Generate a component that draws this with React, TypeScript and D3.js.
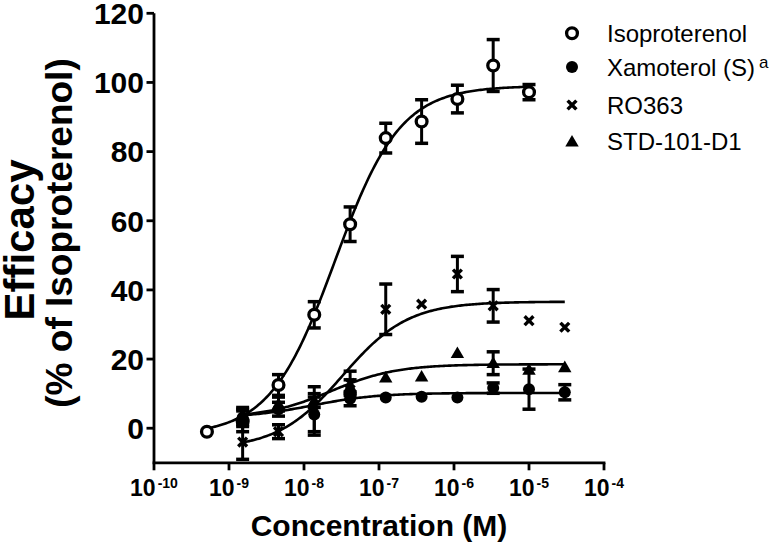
import React from "react";
import * as d3 from "d3";

// ---- data ----
const isoConc = [5.08e-10, 1.52e-9, 4.57e-9, 1.37e-8, 4.12e-8, 1.23e-7, 3.7e-7, 1.11e-6, 3.33e-6, 1e-5];
const otherConc = [1.52e-9, 4.57e-9, 1.37e-8, 4.12e-8, 1.23e-7, 3.7e-7, 1.11e-6, 3.33e-6, 1e-5, 3e-5];

const isoMean = [-1.0, 2.0, 12.5, 32.8, 59.0, 83.9, 88.7, 95.2, 104.9, 97.2];
const isoErr = [0, 3, 3, 3.8, 5, 4.3, 6.3, 4, 7.5, 2.2];
const xamMean = [3.0, 5.5, 4.0, 8.5, 8.9, 9.1, 8.9, 11.6, 11.3, 10.4];
const xamErr = [2.5, 2, 5, 2, 0, 0, 0, 1.5, 5.8, 2.2];
const roMean = [-4.0, -1.0, 5.0, 13.0, 34.4, 35.9, 44.6, 35.4, 31.1, 29.2];
const roErr = [5, 2, 7, 3.5, 7.3, 0, 5.1, 4.7, 0, 0];
const stdMean = [4.0, 7.0, 8.0, 12.0, 14.6, 14.9, 21.7, 18.8, 16.9, 17.6];
const stdErr = [2, 2, 2, 2, 0, 0, 0, 3.3, 0, 0];

// fitted curve parameters: [bottom, top, EC50]
const isoFit = [-2, 99, 2.6e-8];
const xamFit = [3, 10.2, 1.3e-8];
const roFit = [-6, 36.6, 3.3e-8];
const stdFit = [3, 18.5, 2.3e-8];

const seriesNames = ["Isoproterenol", "Xamoterol (S)", "RO363", "STD-101-D1"];
const xTickExps = [-10, -9, -8, -7, -6, -5, -4];
const yTicks = [0, 20, 40, 60, 80, 100, 120];

const FONT = "'Liberation Sans', Arial, Helvetica, sans-serif";

const x = d3.scaleLog().domain([1e-10, 1e-4]).range([154, 604]);
const y = d3.scaleLinear().domain([-10, 120]).range([462.8, 13.3]);

type Kind = "open" | "filled" | "cross" | "tri";

function Marker({ kind, cx, cy }: { kind: Kind; cx: number; cy: number }) {
  if (kind === "open")
    return <circle cx={cx} cy={cy} r={5.4} fill="#fff" stroke="#000" strokeWidth={3.3} />;
  if (kind === "filled") return <circle cx={cx} cy={cy} r={6} fill="#000" />;
  if (kind === "tri") {
    const p = d3.symbol(d3.symbolTriangle).size(78)();
    return <path d={p || ""} transform={`translate(${cx},${cy + 1})`} fill="#000" />;
  }
  const h = 3.2;
  return (
    <path
      d={`M${cx - h},${cy - h}L${cx + h},${cy + h}M${cx - h},${cy + h}L${cx + h},${cy - h}`}
      stroke="#000"
      strokeWidth={3.4}
      strokeLinecap="square"
      fill="none"
    />
  );
}

function curvePath(fit: number[], c0: number, c1: number) {
  const [b, t, ec] = fit;
  const l0 = Math.log10(c0), l1 = Math.log10(c1);
  const pts: [number, number][] = d3.range(0, 201).map((i) => {
    const c = Math.pow(10, l0 + ((l1 - l0) * i) / 200);
    return [c, b + (t - b) / (1 + ec / c)];
  });
  return d3.line<[number, number]>().x((d) => x(d[0])).y((d) => y(d[1]))(pts) || "";
}

function Series({ conc, mean, err, fit, kind }: { conc: number[]; mean: number[]; err: number[]; fit: number[]; kind: Kind }) {
  return (
    <g>
      <path d={curvePath(fit, conc[0], conc[conc.length - 1])} fill="none" stroke="#000" strokeWidth={2.6} />
      {conc.map((c, i) =>
        err[i] > 0 ? (
          <g key={"e" + i} stroke="#000">
            <line x1={x(c)} x2={x(c)} y1={y(mean[i] + err[i])} y2={y(mean[i] - err[i])} strokeWidth={3} />
            <line x1={x(c) - 6.5} x2={x(c) + 6.5} y1={y(mean[i] + err[i])} y2={y(mean[i] + err[i])} strokeWidth={3.5} />
            <line x1={x(c) - 6.5} x2={x(c) + 6.5} y1={y(mean[i] - err[i])} y2={y(mean[i] - err[i])} strokeWidth={3.5} />
          </g>
        ) : null
      )}
      {conc.map((c, i) => (
        <Marker key={"m" + i} kind={kind} cx={x(c)} cy={y(mean[i])} />
      ))}
    </g>
  );
}

export default function App() {
  const kinds: Kind[] = ["open", "filled", "cross", "tri"];
  const legendY = [33.3, 67, 105, 141.7];
  return (
    <svg width={771} height={546} style={{ position: "absolute", left: 0, top: 0, background: "#fff" }} fontFamily={FONT}>
      <rect width={771} height={546} fill="#fff" />
      {/* axes */}
      <line x1={154} x2={154} y1={y(120)} y2={y(-10)} stroke="#000" strokeWidth={2.8} />
      <line x1={152.6} x2={x(1e-4) + 1.4} y1={y(-10)} y2={y(-10)} stroke="#000" strokeWidth={2.8} />
      {yTicks.map((t) => (
        <g key={"yt" + t}>
          <line x1={146.5} x2={154} y1={y(t)} y2={y(t)} stroke="#000" strokeWidth={2.8} />
          <text x={144} y={y(t) + 10.8} textAnchor="end" fontSize={30} fontWeight="bold">
            {t}
          </text>
        </g>
      ))}
      {xTickExps.map((e) => {
        const px = x(Math.pow(10, e));
        return (
          <g key={"xt" + e}>
            <line x1={px} x2={px} y1={y(-10)} y2={y(-10) + 7.5} stroke="#000" strokeWidth={2.8} />
            <text x={px} y={495.5} textAnchor="middle" fontSize={23} fontWeight="bold">
              <tspan>10</tspan>
              <tspan dx={2} dy={-8} fontSize={14}>{String(e)}</tspan>
            </text>
          </g>
        );
      })}
      <text x={379} y={536} textAnchor="middle" fontSize={30} fontWeight="bold">
        Concentration (M)
      </text>
      <g transform="rotate(-90)">
        <text x={-240} y={34} textAnchor="middle" fontSize={42} fontWeight="bold">Efficacy</text>
        <text x={-233} y={72} textAnchor="middle" fontSize={37} fontWeight="bold">(% of Isoproterenol)</text>
      </g>
      {/* data */}
      <Series conc={isoConc} mean={isoMean} err={isoErr} fit={isoFit} kind="open" />
      <Series conc={otherConc} mean={xamMean} err={xamErr} fit={xamFit} kind="filled" />
      <Series conc={otherConc} mean={roMean} err={roErr} fit={roFit} kind="cross" />
      <Series conc={otherConc} mean={stdMean} err={stdErr} fit={stdFit} kind="tri" />
      {/* legend */}
      {seriesNames.map((n, i) => (
        <g key={"lg" + i}>
          <Marker kind={kinds[i]} cx={572} cy={legendY[i]} />
          <text x={607} y={legendY[i] + 8.6} fontSize={24}>
            {n}
            {i === 1 ? (
              <tspan dx={4} dy={-8} fontSize={17}>a</tspan>
            ) : null}
          </text>
        </g>
      ))}
    </svg>
  );
}
